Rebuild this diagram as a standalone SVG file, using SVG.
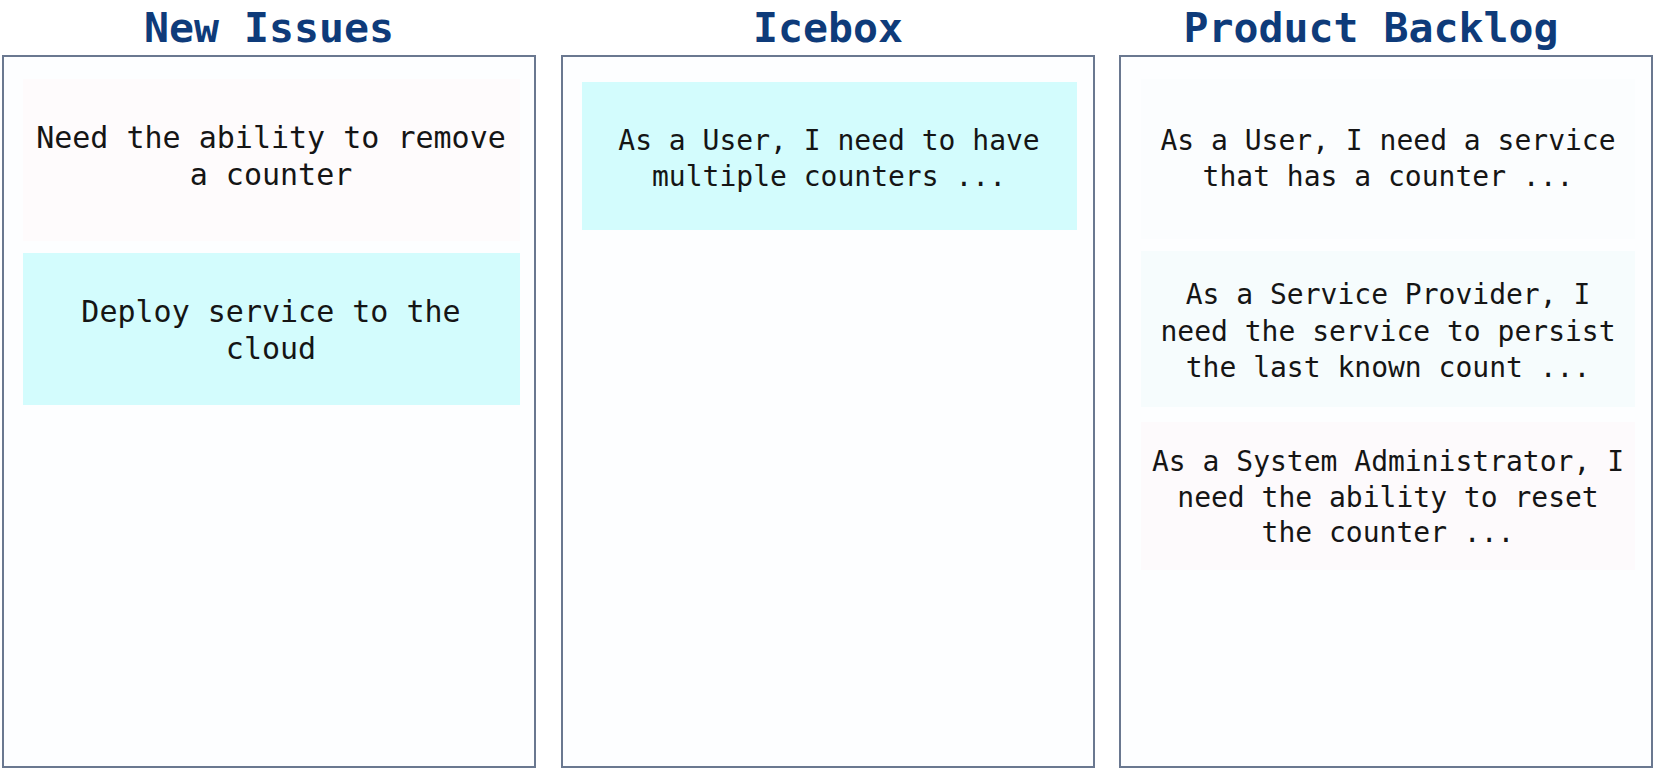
<svg xmlns="http://www.w3.org/2000/svg" width="1656" height="771" viewBox="0 0 1656 771">
<style>
.col{fill:#fdfeff;stroke:#6a7890;stroke-width:2}
.title{font-family:"DejaVu Sans Mono","Liberation Mono",monospace;font-weight:bold;font-size:41.5px;fill:#0e3b7a;text-anchor:middle}
.t30{font-family:"DejaVu Sans Mono","Liberation Mono",monospace;font-size:30px;fill:#151515;text-anchor:middle}
.t28{font-family:"DejaVu Sans Mono","Liberation Mono",monospace;font-size:28px;fill:#151515;text-anchor:middle}
.cyan{fill:#d3fcfd}
</style>
<rect width="1656" height="771" fill="#ffffff"/>
<g id="col-new-issues">
<text class="title" x="269" y="42">New Issues</text>
<rect class="col" x="3" y="56" width="532" height="711"/>
</g>
<g id="col-icebox">
<text class="title" x="828" y="42">Icebox</text>
<rect class="col" x="562" y="56" width="532" height="711"/>
</g>
<g id="col-product-backlog">
<text class="title" x="1371" y="42">Product Backlog</text>
<rect class="col" x="1120" y="56" width="532" height="711"/>
</g>
<g id="card-remove-counter">
<rect x="23" y="79" width="497" height="162" fill="#fefbfc"/>
<text class="t30" x="271" y="148">Need the ability to remove</text>
<text class="t30" x="271" y="185">a counter</text>
</g>
<g id="card-deploy">
<rect class="cyan" x="23" y="253" width="497" height="152"/>
<text class="t30" x="271" y="322">Deploy service to the</text>
<text class="t30" x="271" y="359">cloud</text>
</g>
<g id="card-multiple-counters">
<rect class="cyan" x="582" y="82" width="495" height="148"/>
<text class="t28" x="829" y="150">As a User, I need to have</text>
<text class="t28" x="829" y="186">multiple counters ...</text>
</g>
<g id="card-service-counter">
<rect x="1141" y="79" width="494" height="160" fill="#fbfdfe"/>
<text class="t28" x="1388" y="150">As a User, I need a service</text>
<text class="t28" x="1388" y="186">that has a counter ...</text>
</g>
<g id="card-persist">
<rect x="1141" y="251" width="494" height="156" fill="#f6fcfd"/>
<text class="t28" x="1388" y="304">As a Service Provider, I</text>
<text class="t28" x="1388" y="341">need the service to persist</text>
<text class="t28" x="1388" y="377">the last known count ...</text>
</g>
<g id="card-reset">
<rect x="1141" y="422" width="494" height="148" fill="#fdfafc"/>
<text class="t28" x="1388" y="471">As a System Administrator, I</text>
<text class="t28" x="1388" y="507">need the ability to reset</text>
<text class="t28" x="1388" y="542">the counter ...</text>
</g>
<g id="connectors"></g>
</svg>
